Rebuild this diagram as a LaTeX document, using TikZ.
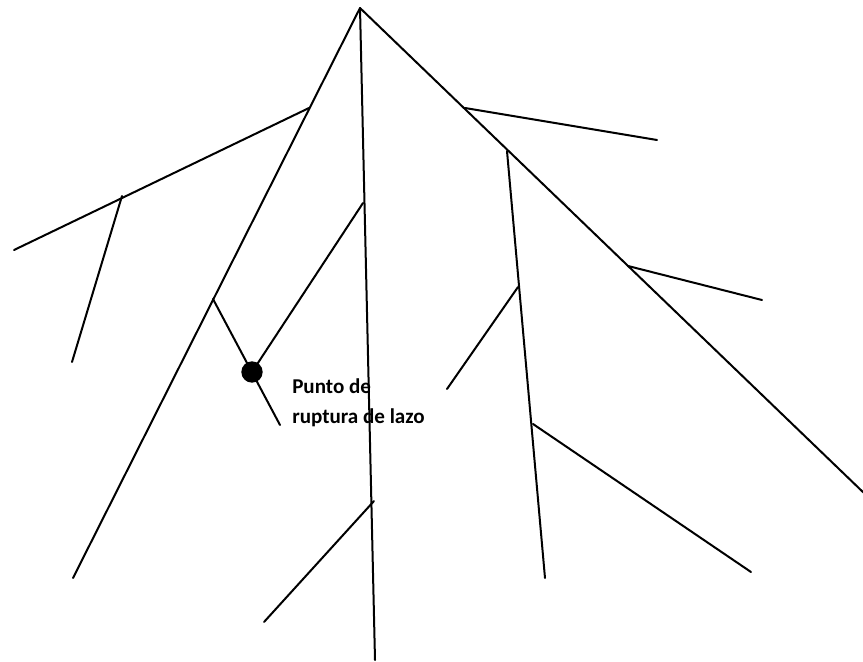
\documentclass[tikz,border=0pt]{standalone}
\usepackage{fontspec}
\setmainfont{Carlito}
\usepackage{tikz}
\usetikzlibrary{positioning}

\begin{document}
\begin{tikzpicture}[
  x=0.75pt, y=-0.75pt,
  br/.style   = {line width=1.5pt, line cap=round},
  dot/.style  = {circle, fill=black, inner sep=0pt, minimum size=16pt},
  lbl/.style  = {anchor=base west, inner sep=0pt,
                 font=\bfseries\fontsize{15.8}{20}\selectfont}
]
\useasboundingbox (0,0) rectangle (863,661);

% Apex and main branches
\coordinate (top)   at (360, 8);
\coordinate (lend)  at (73, 578);
\coordinate (mend)  at (375, 660);
\coordinate (rend)  at (865, 494);
\draw[br] (top) -- (lend);
\draw[br] (top) -- (mend);
\draw[br] (top) -- (rend);

% Left side
\coordinate (l1)  at (309, 108);
\coordinate (l1e) at (14, 250);
\coordinate (l2)  at (122, 196);
\coordinate (l2e) at (72, 362);
\coordinate (l3)  at (213, 299);
\coordinate (l3e) at (280, 425);
\draw[br] (l1) -- (l1e);
\draw[br] (l2) -- (l2e);
\draw[br] (l3) -- (l3e);

% Break point
\node[dot] (brk) at (252, 372) {};
\coordinate (m1) at (363, 203);
\draw[br] (m1) -- (brk.center);

% Middle
\coordinate (m2)  at (374, 501);
\coordinate (m2e) at (264, 622);
\draw[br] (m2) -- (m2e);

% Right side
\coordinate (r1)  at (465, 108);
\coordinate (r1e) at (657, 140);
\coordinate (r2)  at (507, 151);
\coordinate (r2e) at (545, 578);
\coordinate (r3)  at (518, 287);
\coordinate (r3e) at (447, 389);
\coordinate (r4)  at (533, 424);
\coordinate (r4e) at (751, 572);
\coordinate (r5)  at (628, 266);
\coordinate (r5e) at (762, 300);
\draw[br] (r1) -- (r1e);
\draw[br] (r2) -- (r2e);
\draw[br] (r3) -- (r3e);
\draw[br] (r4) -- (r4e);
\draw[br] (r5) -- (r5e);

% Label
\node[lbl] (lbla) at (292, 393) {Punto de};
\node[lbl] (lblb) at (292, 423) {ruptura de lazo};
\end{tikzpicture}
\end{document}
